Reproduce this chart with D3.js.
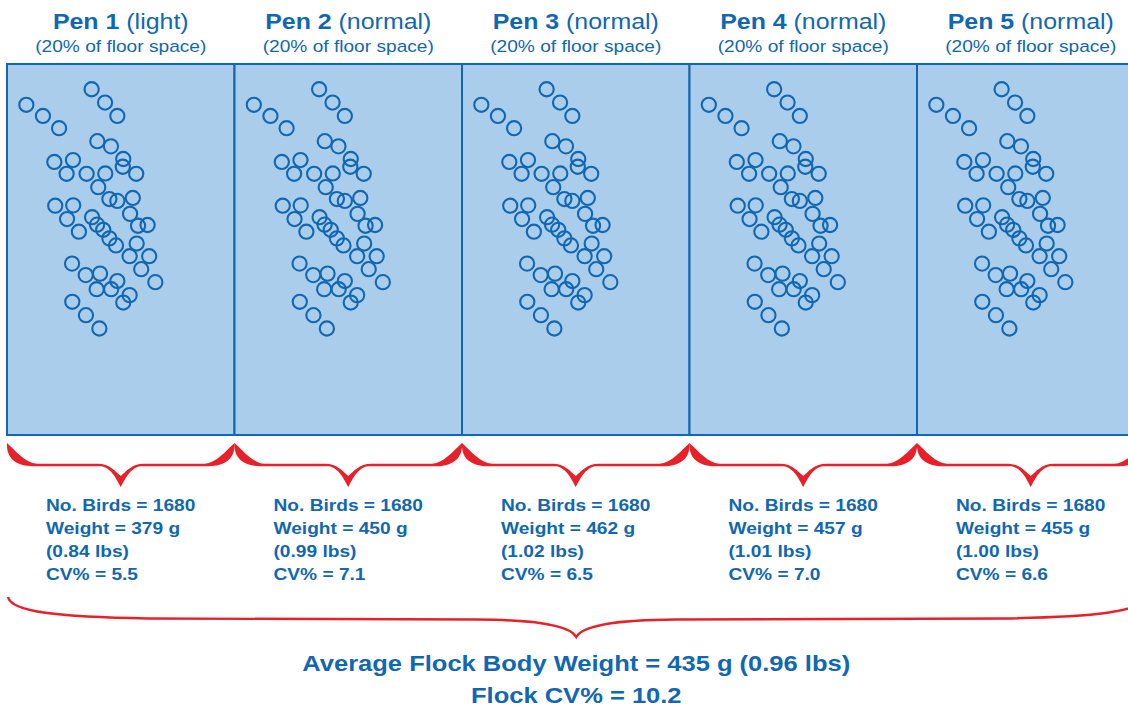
<!DOCTYPE html>
<html>
<head>
<meta charset="utf-8">
<script src="https://cdn.jsdelivr.net/npm/d3@7"></script>
<style>
  body { margin: 0; background: #fff; }
  svg { display: block; font-family: "Liberation Sans", Arial, sans-serif; }
</style>
</head>
<body>
<div id="chart"></div>
<script>
// pens and their results
const pens = ['Pen 1', 'Pen 2', 'Pen 3', 'Pen 4', 'Pen 5'];
const penTypes = ['light', 'normal', 'normal', 'normal', 'normal'];
const floorShare = [20, 20, 20, 20, 20];
const noBirds = [1680, 1680, 1680, 1680, 1680];
const weightG = [379, 450, 462, 457, 455];
const weightLbs = [0.84, 0.99, 1.02, 1.01, 1.00];
const cvPct = [5.5, 7.1, 6.5, 7.0, 6.6];

const flockWeightG = 435;
const flockWeightLbs = 0.96;
const flockCV = 10.2;

// sample birds, position in % of pen width / depth (same sketch repeated in each pen)
const birdX = [37.2, 43.1, 48.5, 8.5, 15.8, 22.9, 39.7, 45.7, 51.1, 50.9, 56.8, 20.8,
  29.0, 26.2, 35.0, 43.2, 40.1, 45.0, 48.5, 55.3, 54.1, 57.6, 61.8, 21.2, 29.1, 26.4,
  31.6, 37.4, 39.6, 42.3, 45.0, 47.9, 57.0, 53.9, 62.5, 59.0, 65.2, 28.6, 34.6, 40.9,
  48.5, 39.4, 45.8, 53.9, 51.1, 28.7, 34.7, 40.6];
const birdY = [6.8, 10.4, 14.0, 11.0, 14.0, 17.3, 20.8, 22.2, 25.6, 27.7, 29.6, 26.4,
  25.9, 29.6, 29.6, 29.5, 33.2, 36.4, 36.9, 36.1, 40.4, 43.6, 43.4, 38.2, 38.1, 41.8,
  45.2, 41.3, 43.3, 44.7, 47.0, 48.9, 48.4, 51.8, 51.8, 55.3, 58.8, 53.8, 56.9, 56.5,
  58.5, 60.7, 60.7, 62.3, 64.3, 64.1, 67.7, 71.3];

const width = 1128;
const height = 707;
const blue = '#1167b1';
const fillBlue = '#abcdec';
const red = '#e8202a';
const stretch = 1.16; // the lettering in the original is set a little wide

const svg = d3.select('#chart')
  .append('svg')
  .attr('width', width)
  .attr('height', height);

const x = d3.scaleBand()
  .domain(pens)
  .range([7, 7 + 5 * 227.5]);

const px = d3.scaleLinear().domain([0, 100]).range([0, x.bandwidth()]);
const py = d3.scaleLinear().domain([0, 100]).range([64, 435]);

const f2 = d3.format('.2f');
const f1 = d3.format('.1f');

// pens
svg.selectAll('.pen')
  .data(pens)
  .enter().append('rect')
    .attr('class', 'pen')
    .attr('x', d => x(d))
    .attr('y', py(0))
    .attr('width', x.bandwidth())
    .attr('height', py(100) - py(0))
    .attr('fill', fillBlue)
    .attr('stroke', blue)
    .attr('stroke-width', 2);

const birds = birdX.map((v, i) => ({x: v, y: birdY[i]}));

pens.forEach((p) => {
  svg.append('g')
    .attr('transform', `translate(${x(p)},0)`)
    .selectAll('circle')
    .data(birds)
    .enter().append('circle')
      .attr('cx', d => px(d.x))
      .attr('cy', d => py(d.y))
      .attr('r', 7.1)
      .attr('fill', 'none')
      .attr('stroke', blue)
      .attr('stroke-width', 2.1);
});

// headers
const head = svg.selectAll('.head')
  .data(pens)
  .enter().append('text')
    .attr('class', 'head')
    .attr('text-anchor', 'middle')
    .attr('fill', blue)
    .attr('font-size', 21.5)
    .attr('transform', d => `translate(${x(d) + x.bandwidth() / 2},28.5) scale(${stretch},1)`);
head.append('tspan').attr('font-weight', 'bold').text(d => d);
head.append('tspan').text((d, i) => ` (${penTypes[i]})`);

svg.selectAll('.sub')
  .data(pens)
  .enter().append('text')
    .attr('class', 'sub')
    .attr('text-anchor', 'middle')
    .attr('fill', blue)
    .attr('font-size', 16.5)
    .attr('transform', d => `translate(${x(d) + x.bandwidth() / 2},52) scale(${stretch},1)`)
    .text((d, i) => `(${floorShare[i]}% of floor space)`);

// small braces under each pen
function brace(x0, x1) {
  const xc = (x0 + x1) / 2, yT = 443, yH = 465, yB = 487;
  return `M${x0},${yT}
    C${x0 + 9},${yT + 8} ${x0 + 18},${yH - 2} ${x0 + 30},${yH - 1.2}
    L${xc - 24},${yH - 1.2}
    C${xc - 11},${yH - 1.5} ${xc - 5},${yB - 15} ${xc},${yB - 11}
    C${xc + 5},${yB - 15} ${xc + 11},${yH - 1.5} ${xc + 24},${yH - 1.2}
    L${x1 - 30},${yH - 1.2}
    C${x1 - 18},${yH - 2} ${x1 - 9},${yT + 8} ${x1},${yT}
    C${x1 + 1},${yT + 16} ${x1 - 10},${yH + 1.2} ${x1 - 26},${yH + 1.2}
    L${xc + 20},${yH + 1.2}
    C${xc + 9},${yH + 2} ${xc + 3},${yB - 5} ${xc},${yB}
    C${xc - 3},${yB - 5} ${xc - 9},${yH + 2} ${xc - 20},${yH + 1.2}
    L${x0 + 26},${yH + 1.2}
    C${x0 + 10},${yH + 1.2} ${x0 - 1},${yT + 16} ${x0},${yT}Z`;
}

svg.selectAll('.brace')
  .data(pens)
  .enter().append('path')
    .attr('class', 'brace')
    .attr('d', d => brace(x(d), x(d) + x.bandwidth()))
    .attr('fill', red);

// stats per pen
const statLines = (i) => [
  `No. Birds = ${noBirds[i]}`,
  `Weight = ${weightG[i]} g`,
  `(${f2(weightLbs[i])} lbs)`,
  `CV% = ${f1(cvPct[i])}`
];

pens.forEach((p, i) => {
  svg.append('g')
    .selectAll('text')
    .data(statLines(i))
    .enter().append('text')
      .attr('fill', blue)
      .attr('font-size', 16.5)
      .attr('font-weight', 'bold')
      .attr('transform', (d, j) => `translate(${x(p) + 39},${510.5 + j * 23.3}) scale(${stretch},1)`)
      .text(d => d);
});

// big brace for the whole flock
const bx0 = x(pens[0]) + 1;
const bx1 = x(pens[4]) + x.bandwidth();
const bxc = (bx0 + bx1) / 2;
svg.append('path')
  .attr('d', `M${bx0},597 C${bx0 + 3},612 ${bx0 + 50},617 ${bx0 + 140},618.5
    L${bxc - 100},619.5 C${bxc - 35},620 ${bxc - 6},626 ${bxc},637
    C${bxc + 6},626 ${bxc + 35},620 ${bxc + 100},619.5
    L${bx1 - 140},618.5 C${bx1 - 50},617 ${bx1 - 3},612 ${bx1},597`)
  .attr('fill', 'none')
  .attr('stroke', red)
  .attr('stroke-width', 2.4);

const summary = [
  `Average Flock Body Weight = ${flockWeightG} g (${f2(flockWeightLbs)} lbs)`,
  `Flock CV% = ${f1(flockCV)}`
];
svg.selectAll('.summary')
  .data(summary)
  .enter().append('text')
    .attr('class', 'summary')
    .attr('text-anchor', 'middle')
    .attr('fill', blue)
    .attr('font-size', 22)
    .attr('font-weight', 'bold')
    .attr('transform', (d, i) => `translate(${bxc},${671 + i * 31.5}) scale(${stretch},1)`)
    .text(d => d);
</script>
</body>
</html>
